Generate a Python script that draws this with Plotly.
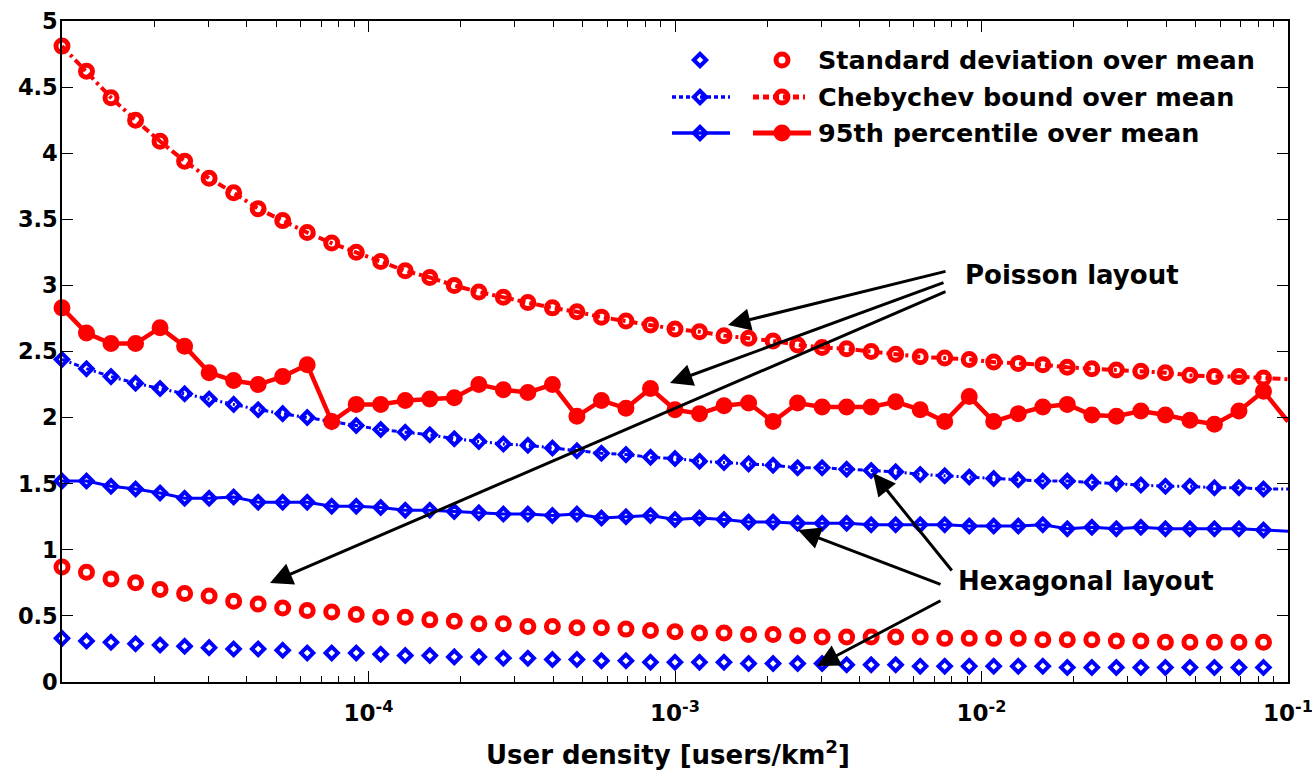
import plotly.graph_objects as go

# ---------------- data ----------------
user_density = [1.000e-5, 1.202e-5, 1.445e-5, 1.738e-5, 2.089e-5, 2.512e-5, 3.020e-5, 3.631e-5,
                4.365e-5, 5.248e-5, 6.310e-5, 7.586e-5, 9.120e-5,
                1.096e-4, 1.318e-4, 1.585e-4, 1.905e-4, 2.291e-4, 2.754e-4, 3.311e-4, 3.981e-4,
                4.786e-4, 5.754e-4, 6.918e-4, 8.318e-4,
                1.000e-3, 1.202e-3, 1.445e-3, 1.738e-3, 2.089e-3, 2.512e-3, 3.020e-3, 3.631e-3,
                4.365e-3, 5.248e-3, 6.310e-3, 7.586e-3, 9.120e-3,
                1.096e-2, 1.318e-2, 1.585e-2, 1.905e-2, 2.291e-2, 2.754e-2, 3.311e-2, 3.981e-2,
                4.786e-2, 5.754e-2, 6.918e-2, 8.318e-2,
                1.000e-1]

poisson_cheb = [4.81, 4.62, 4.42, 4.25, 4.09, 3.94, 3.81, 3.70, 3.58, 3.49, 3.40, 3.32, 3.25,
                3.18, 3.11, 3.06, 3.00, 2.95, 2.91, 2.87, 2.83, 2.80, 2.76, 2.73, 2.70,
                2.67, 2.65, 2.62, 2.60, 2.58, 2.55, 2.53, 2.52, 2.50, 2.48, 2.46, 2.45, 2.44,
                2.42, 2.41, 2.40, 2.38, 2.37, 2.36, 2.35, 2.34, 2.32, 2.31, 2.31, 2.30,
                2.29]
poisson_p95 = [2.83, 2.64, 2.56, 2.56, 2.68, 2.54, 2.34, 2.28, 2.25, 2.31, 2.40, 1.97, 2.10,
               2.10, 2.13, 2.14, 2.15, 2.25, 2.21, 2.19, 2.25, 2.01, 2.13, 2.07, 2.22,
               2.06, 2.03, 2.09, 2.11, 1.97, 2.11, 2.08, 2.08, 2.08, 2.12, 2.06, 1.97, 2.16,
               1.97, 2.03, 2.08, 2.10, 2.02, 2.01, 2.05, 2.02, 1.98, 1.95, 2.05, 2.20,
               1.97]
poisson_std = [0.87, 0.83, 0.78, 0.75, 0.70, 0.67, 0.65, 0.61, 0.59, 0.56, 0.54, 0.53, 0.51,
               0.49, 0.49, 0.47, 0.46, 0.44, 0.44, 0.42, 0.42, 0.41, 0.41, 0.40, 0.39,
               0.38, 0.37, 0.37, 0.36, 0.36, 0.35, 0.34, 0.34, 0.34, 0.34, 0.34, 0.33, 0.33,
               0.33, 0.33, 0.32, 0.32, 0.32, 0.31, 0.31, 0.30, 0.30, 0.30, 0.30, 0.30,
               0.29]
hex_cheb = [2.44, 2.37, 2.31, 2.26, 2.22, 2.18, 2.14, 2.10, 2.06, 2.03, 2.00, 1.97, 1.94,
            1.91, 1.89, 1.87, 1.84, 1.82, 1.80, 1.79, 1.77, 1.75, 1.73, 1.72, 1.70,
            1.69, 1.67, 1.66, 1.65, 1.64, 1.62, 1.62, 1.61, 1.60, 1.59, 1.57, 1.56, 1.55,
            1.54, 1.53, 1.52, 1.52, 1.51, 1.50, 1.49, 1.48, 1.48, 1.47, 1.47, 1.46,
            1.46]
hex_p95 = [1.52, 1.52, 1.48, 1.46, 1.43, 1.39, 1.39, 1.40, 1.36, 1.36, 1.36, 1.33, 1.33,
           1.32, 1.30, 1.30, 1.29, 1.28, 1.27, 1.27, 1.26, 1.27, 1.24, 1.25, 1.26,
           1.23, 1.24, 1.23, 1.21, 1.21, 1.20, 1.20, 1.20, 1.19, 1.19, 1.19, 1.19, 1.18,
           1.18, 1.18, 1.19, 1.16, 1.17, 1.16, 1.17, 1.16, 1.16, 1.16, 1.16, 1.15,
           1.14]
hex_std = [0.33, 0.31, 0.30, 0.29, 0.28, 0.27, 0.26, 0.25, 0.25, 0.24, 0.22, 0.22, 0.22,
           0.21, 0.20, 0.20, 0.19, 0.19, 0.18, 0.18, 0.17, 0.17, 0.16, 0.16, 0.15,
           0.15, 0.15, 0.15, 0.14, 0.14, 0.14, 0.14, 0.13, 0.13, 0.13, 0.12, 0.12, 0.12,
           0.12, 0.12, 0.12, 0.11, 0.11, 0.11, 0.11, 0.11, 0.11, 0.11, 0.11, 0.11,
           0.11]

x_tick_vals = [1e-4, 1e-3, 1e-2, 1e-1]
x_tick_text = ["10<sup>-4</sup>", "10<sup>-3</sup>", "10<sup>-2</sup>", "10<sup>-1</sup>"]
x_minor_vals = [m * 10.0 ** e for e in (-5, -4, -3, -2) for m in range(2, 10)]

legend_labels = ["Standard deviation over mean", "Chebychev bound over mean", "95th percentile over mean"]
x_title = "User density [users/km<sup>2</sup>]"

# ---------------- layout constants (pixels) ----------------
W, H = 1312, 778
L, R, T, B = 62, 1288, 21, 682
FONT = "DejaVu Sans"
RED = "#ff0000"
BLUE = "#0000ff"


def fx(px):
    return (px - L) / (R - L)


def fy(py):
    return (B - py) / (B - T)


red_open = dict(symbol="circle-open", size=12, line=dict(width=5, color=RED), color=RED)
red_fill = dict(symbol="circle", size=15, line=dict(width=2, color=RED), color=RED)
blue_open = dict(symbol="diamond-open", size=9.5, line=dict(width=4, color=BLUE), color=BLUE)
blue_dash = "5px,3px,2px,3px"
red_dash = "8px,4px,3px,4px"

fig = go.Figure()

# Poisson (red) and hexagonal (blue) series
fig.add_trace(go.Scatter(x=user_density, y=hex_std, mode="markers", marker=blue_open, cliponaxis=False))
fig.add_trace(go.Scatter(x=user_density, y=poisson_std, mode="markers", marker=red_open, cliponaxis=False))
fig.add_trace(go.Scatter(x=user_density, y=hex_cheb, mode="lines+markers", marker=blue_open,
                         line=dict(color=BLUE, width=3, dash=blue_dash), cliponaxis=False))
fig.add_trace(go.Scatter(x=user_density, y=poisson_cheb, mode="lines+markers", marker=red_open,
                         line=dict(color=RED, width=4, dash=red_dash), cliponaxis=False))
fig.add_trace(go.Scatter(x=user_density, y=hex_p95, mode="lines+markers", marker=blue_open,
                         line=dict(color=BLUE, width=3), cliponaxis=False))
fig.add_trace(go.Scatter(x=user_density, y=poisson_p95, mode="lines+markers", marker=red_fill,
                         line=dict(color=RED, width=4.5), cliponaxis=False))

# ---------------- custom two-symbol legend (overlay axes in domain units) ----------------
rows_y = [60, 97, 133]
blue_seg = (672, 730)
red_segs = [(753, 805), (753, 805), (753, 811)]
blue_mk, red_mk = 700, 782
legend_styles = [
    (None, None),
    (dict(color=BLUE, width=3.5, dash="4px,3px"), dict(color=RED, width=5, dash="6px,4px")),
    (dict(color=BLUE, width=3.5), dict(color=RED, width=5)),
]
legend_red_markers = [red_open, red_open, red_fill]
for i, ry in enumerate(rows_y):
    bl, rl = legend_styles[i]
    if bl is not None:
        fig.add_trace(go.Scatter(x=[fx(blue_seg[0]), fx(blue_seg[1])], y=[fy(ry), fy(ry)], mode="lines",
                                 line=bl, xaxis="x2", yaxis="y2", cliponaxis=False))
        fig.add_trace(go.Scatter(x=[fx(red_segs[i][0]), fx(red_segs[i][1])], y=[fy(ry), fy(ry)], mode="lines",
                                 line=rl, xaxis="x2", yaxis="y2", cliponaxis=False))
    fig.add_trace(go.Scatter(x=[fx(blue_mk)], y=[fy(ry)], mode="markers", marker=blue_open,
                             xaxis="x2", yaxis="y2", cliponaxis=False))
    fig.add_trace(go.Scatter(x=[fx(red_mk)], y=[fy(ry)], mode="markers", marker=legend_red_markers[i],
                             xaxis="x2", yaxis="y2", cliponaxis=False))

annotations = []
for i, ry in enumerate(rows_y):
    annotations.append(dict(xref="x domain", yref="y domain", x=fx(816), y=fy(ry), text=legend_labels[i],
                            showarrow=False, xanchor="left", yanchor="middle",
                            font=dict(family=FONT, size=25.5, color="black", weight="bold")))

annotations.append(dict(xref="x domain", yref="y domain", x=fx(963), y=fy(275), text="Poisson layout",
                        showarrow=False, xanchor="left", yanchor="middle",
                        font=dict(family=FONT, size=26, color="black", weight="bold")))
annotations.append(dict(xref="x domain", yref="y domain", x=fx(956), y=fy(581), text="Hexagonal layout",
                        showarrow=False, xanchor="left", yanchor="middle",
                        font=dict(family=FONT, size=26, color="black", weight="bold")))

# arrows: (tail_x, tail_y, head_x, head_y) in pixels
arrows = [
    (947, 271, 728, 325),
    (945, 282, 670, 383),
    (947, 291, 270, 583),
    (953, 572, 873, 473),
    (942, 585, 798, 530),
    (942, 600, 817, 666),
]
for tx, ty, hx, hy in arrows:
    annotations.append(dict(xref="x domain", yref="y domain", axref="x domain", ayref="y domain",
                            x=fx(hx), y=fy(hy), ax=fx(tx), ay=fy(ty), text="", showarrow=True,
                            arrowhead=2, arrowsize=1.5, arrowwidth=3, arrowcolor="black", standoff=0))

# x axis title
annotations.append(dict(xref="x domain", yref="y domain", x=fx(668), y=fy(753), text=x_title,
                        showarrow=False, xanchor="center", yanchor="middle",
                        font=dict(family=FONT, size=26, color="black", weight="bold")))

fig.update_layout(
    width=W, height=H,
    margin=dict(l=L, r=W - R, t=T, b=H - B, pad=0),
    paper_bgcolor="white", plot_bgcolor="white",
    showlegend=False,
    xaxis=dict(type="log", range=[-5, -1], showgrid=False, zeroline=False,
               showline=True, linecolor="black", linewidth=1.5, mirror="ticks",
               ticks="inside", ticklen=11, tickwidth=1.2, tickcolor="black",
               tickmode="array", tickvals=x_tick_vals, ticktext=x_tick_text,
               tickfont=dict(family=FONT, size=23, color="black", weight="bold"),
               ticklabelstandoff=10, ticklabeloverflow="allow", automargin=False,
               minor=dict(tickmode="array", tickvals=x_minor_vals, ticks="inside", ticklen=6,
                          tickwidth=1.2, tickcolor="black", showgrid=False)),
    yaxis=dict(range=[0, 5], dtick=0.5, showgrid=False, zeroline=False,
               showline=True, linecolor="black", linewidth=1.5, mirror="ticks",
               ticks="inside", ticklen=11, tickwidth=1.2, tickcolor="black",
               tickfont=dict(family=FONT, size=22.5, color="black", weight="bold"),
               ticklabelstandoff=-2, automargin=False),
    xaxis2=dict(domain=[0, 1], anchor="y2", overlaying="x", range=[0, 1], visible=False),
    yaxis2=dict(domain=[0, 1], anchor="x2", overlaying="y", range=[0, 1], visible=False),
    annotations=annotations,
)

fig.write_html("out.html", config={"displayModeBar": False},
               post_script="document.body.style.margin='0';document.body.style.padding='0';"
                           "document.body.style.overflow='hidden';")
